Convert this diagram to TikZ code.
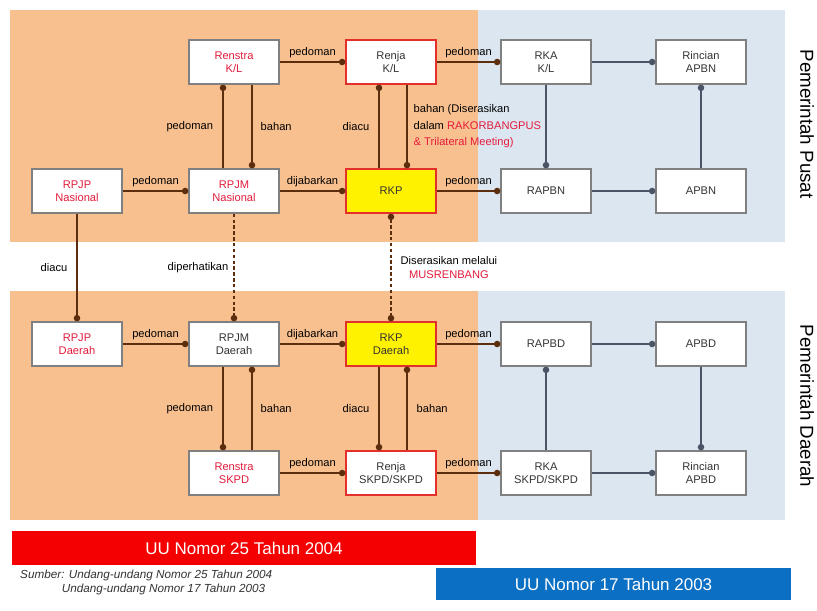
\documentclass[tikz,border=0pt]{standalone}
\usepackage{fontspec}
\setmainfont{Liberation Sans}
\usetikzlibrary{arrows.meta}
\definecolor{orbg}{HTML}{F9C08F}
\definecolor{blbg}{HTML}{DCE6F1}
\definecolor{boxline}{HTML}{808080}
\definecolor{redtxt}{HTML}{E31B3C}
\definecolor{redline}{HTML}{E3302A}
\definecolor{brown}{HTML}{5C2E0E}
\definecolor{slate}{HTML}{4A5466}
\definecolor{redbar}{HTML}{F50000}
\definecolor{bluebar}{HTML}{0B70C4}
\definecolor{dtxt}{HTML}{333333}
\tikzset{
  dot/.tip={Circle[length=5.5pt]},
  box/.style={draw=boxline, line width=1.1pt, fill=white, minimum width=2.7cm, minimum height=1.32cm,
    align=center, font=\fontsize{9.5}{11.5}\selectfont, text=dtxt, inner sep=1pt},
  rbox/.style={box, text=redtxt},
  renjabox/.style={box, draw=redline},
  rkpbox/.style={box, draw=redline, fill=yellow},
  con/.style={draw=brown, line width=1.2pt, -dot},
  conb/.style={draw=slate, line width=1.2pt, -dot},
  dcon/.style={con, densely dashed},
  lbl/.style={font=\fontsize{9.5}{11.5}\selectfont, text=black, inner sep=0pt},
  bartxt/.style={font=\fontsize{14.5}{17}\selectfont, text=white},
  side/.style={font=\fontsize{16}{18}\selectfont, text=black, rotate=-90}
}
\begin{document}
\begin{tikzpicture}[x=0.03cm, y=-0.03cm]
\useasboundingbox (0,0) rectangle (817,610);
\fill[white] (0,0) rectangle (817,610);
% backgrounds
\fill[orbg] (10,10) rectangle (478,242);
\fill[blbg] (478,10) rectangle (785,242);
\fill[orbg] (10,291) rectangle (478,520);
\fill[blbg] (478,291) rectangle (785,520);
% top boxes
\node[rbox] (renstra) at (234,62) {Renstra\\K/L};
\node[renjabox] (renja) at (391,62) {Renja\\K/L};
\node[box] (rkakl) at (546,62) {RKA\\K/L};
\node[box] (rincianapbn) at (701,62) {Rincian\\APBN};
\node[rbox] (rpjpn) at (77,191) {RPJP\\Nasional};
\node[rbox] (rpjmn) at (234,191) {RPJM\\Nasional};
\node[rkpbox] (rkp) at (391,191) {RKP};
\node[box] (rapbn) at (546,191) {RAPBN};
\node[box] (apbn) at (701,191) {APBN};
% bottom boxes
\node[rbox] (rpjpd) at (77,344) {RPJP\\Daerah};
\node[box] (rpjmd) at (234,344) {RPJM\\Daerah};
\node[rkpbox] (rkpd) at (391,344) {RKP\\Daerah};
\node[box] (rapbd) at (546,344) {RAPBD};
\node[box] (apbd) at (701,344) {APBD};
\node[rbox] (renstrad) at (234,473) {Renstra\\SKPD};
\node[renjabox] (renjad) at (391,473) {Renja\\SKPD/SKPD};
\node[box] (rkad) at (546,473) {RKA\\SKPD/SKPD};
\node[box] (rinciand) at (701,473) {Rincian\\APBD};
% top connectors
\draw[con] (renstra) -- (renja) node[midway, above=3pt, lbl] {pedoman};
\draw[con] (renja) -- (rkakl) node[midway, above=3pt, lbl] {pedoman};
\draw[conb] (rkakl) -- (rincianapbn);
\draw[con] (rpjpn) -- (rpjmn) node[midway, above=3pt, lbl] {pedoman};
\draw[con] (rpjmn) -- (rkp) node[midway, above=3pt, lbl] {dijabarkan};
\draw[con] (rkp) -- (rapbn) node[midway, above=3pt, lbl] {pedoman};
\draw[conb] (rapbn) -- (apbn);
\draw[con] ([xshift=-0.33cm]rpjmn.north) -- ([xshift=-0.33cm]renstra.south) node[midway, left=0.28cm, lbl] {pedoman};
\draw[con] ([xshift=0.54cm]renstra.south) -- ([xshift=0.54cm]rpjmn.north) node[midway, right=0.24cm, lbl] {bahan};
\draw[con] ([xshift=-0.36cm]rkp.north) -- ([xshift=-0.36cm]renja.south) node[midway, left=0.27cm, lbl] {diacu};
\draw[con] ([xshift=0.48cm]renja.south) -- ([xshift=0.48cm]rkp.north)
  node[midway, right=0.18cm, lbl, align=left, font=\fontsize{9.5}{14}\selectfont] {bahan (Diserasikan\\dalam \textcolor{redtxt}{RAKORBANGPUS}\\\textcolor{redtxt}{\& Trilateral Meeting)}};
\draw[conb] (rkakl) -- (rapbn);
\draw[conb] (apbn) -- (rincianapbn);
% middle connectors
\draw[con] (rpjpn) -- (rpjpd) node[midway, left=0.27cm, lbl] {diacu};
\draw[dcon] (rpjmn) -- (rpjmd) node[midway, left=0.15cm, lbl] {diperhatikan};
\draw[dcon, dot-dot] (rkp) -- (rkpd)
  node[midway, right=0.27cm, lbl, align=center] {Diserasikan melalui\\\textcolor{redtxt}{MUSRENBANG}};
% bottom connectors
\draw[con] (rpjpd) -- (rpjmd) node[midway, above=3pt, lbl] {pedoman};
\draw[con] (rpjmd) -- (rkpd) node[midway, above=3pt, lbl] {dijabarkan};
\draw[con] (rkpd) -- (rapbd) node[midway, above=3pt, lbl] {pedoman};
\draw[conb] (rapbd) -- (apbd);
\draw[conb] (apbd) -- (rinciand);
\draw[conb] (rkad) -- (rapbd);
\draw[con] ([xshift=-0.33cm]rpjmd.south) -- ([xshift=-0.33cm]renstrad.north) node[midway, left=0.28cm, lbl] {pedoman};
\draw[con] ([xshift=0.54cm]renstrad.north) -- ([xshift=0.54cm]rpjmd.south) node[midway, right=0.24cm, lbl] {bahan};
\draw[con] ([xshift=-0.36cm]rkpd.south) -- ([xshift=-0.36cm]renjad.north) node[midway, left=0.27cm, lbl] {diacu};
\draw[con] ([xshift=0.48cm]renjad.north) -- ([xshift=0.48cm]rkpd.south) node[midway, right=0.27cm, lbl] {bahan};
\draw[con] (renstrad) -- (renjad) node[midway, above=3pt, lbl] {pedoman};
\draw[con] (renjad) -- (rkad) node[midway, above=3pt, lbl] {pedoman};
\draw[conb] (rkad) -- (rinciand);
% side labels
\node[side] (pusat) at (807,124) {Pemerintah Pusat};
\node[side] (daerah) at (807,406) {Pemerintah Daerah};
% law bars
\node[fill=redbar, minimum width=13.92cm, minimum height=1.02cm, bartxt, inner sep=0pt] (uu25) at (244,548) {UU Nomor 25 Tahun 2004};
\node[fill=bluebar, minimum width=10.65cm, minimum height=0.96cm, bartxt, inner sep=0pt] (uu17) at (613.5,584) {UU Nomor 17 Tahun 2003};
% source
\node[anchor=north west, align=left, inner sep=0pt, text=dtxt, font=\itshape\fontsize{10}{12}\selectfont] (src) at (20,570)
  {Sumber: Undang-undang Nomor 25 Tahun 2004\\\hspace*{3.55em}Undang-undang Nomor 17 Tahun 2003};
\end{tikzpicture}
\end{document}
